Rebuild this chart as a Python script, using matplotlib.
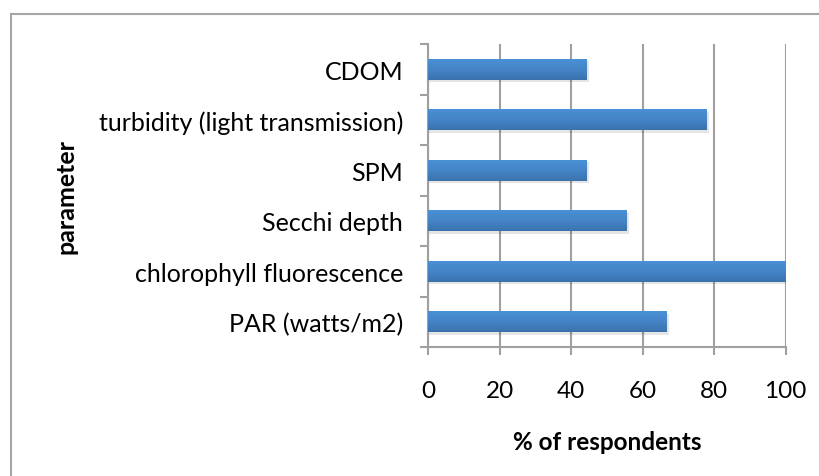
import matplotlib
matplotlib.use("Agg")
import matplotlib.pyplot as plt
import numpy as np
from matplotlib.lines import Line2D
from matplotlib.colors import LinearSegmentedColormap

categories = ["PAR (watts/m2)", "chlorophyll fluorescence", "Secchi depth",
              "SPM", "turbidity (light transmission)", "CDOM"]
values = [66.7, 100, 55.6, 44.4, 77.8, 44.4]
xticks = [0, 20, 40, 60, 80, 100]

plt.rcParams['font.family'] = ['Lato', 'DejaVu Sans']

fig = plt.figure(figsize=(8.19, 4.77), dpi=100)
ax = fig.add_axes([428/819, 1-348/477, (785.7-428)/819, (348-45)/477])

# frame of the chart area
fig.add_artist(Line2D([11/819, 11/819], [0, 1-15/477], transform=fig.transFigure,
                      color="#a6a6a6", lw=1.5))
fig.add_artist(Line2D([11/819, 1], [1-15/477, 1-15/477], transform=fig.transFigure,
                      color="#a6a6a6", lw=1.5))

y = np.arange(len(categories))
bars = ax.barh(y, values, height=0.42, color="#4384c6", zorder=3)

cmap = LinearSegmentedColormap.from_list("g", ["#3b72ad", "#4585c8", "#4a91d6"])
grad = np.linspace(0, 1, 64).reshape(-1, 1)
for b in bars:
    x0, y0 = b.get_x(), b.get_y()
    w, h = b.get_width(), b.get_height()
    # soft shadow
    ax.barh(y0 + h/2 - 0.05, w + 0.7, height=h, left=0, color="#000000", alpha=0.10,
            zorder=2, edgecolor="none")
    im = ax.imshow(grad, extent=[x0, x0 + w, y0, y0 + h], aspect="auto",
                   cmap=cmap, origin="lower", zorder=4)
    im.set_clip_path(b)

ax.set_xlim(0, 100)
ax.set_ylim(-0.5, len(categories) - 0.5)
ax.set_xticks(xticks)
ax.set_xticklabels([str(t) for t in xticks])
ax.set_yticks(y)
ax.set_yticklabels(categories)
ax.set_yticks(np.arange(-0.5, len(categories), 1), minor=True)
ax.tick_params(axis="y", which="major", length=0, pad=18, labelsize=18)
ax.tick_params(axis="y", which="minor", length=6, color="#a0a0a0", width=1.5)
ax.tick_params(axis="x", which="major", length=6, color="#a0a0a0", width=1.5,
               pad=18, labelsize=17.5)

ax.grid(axis="x", color="#a0a0a0", lw=1.5, zorder=0)
for s in ["top", "right"]:
    ax.spines[s].set_visible(False)
for s in ["left", "bottom"]:
    ax.spines[s].set_color("#a0a0a0")
    ax.spines[s].set_linewidth(1.5)

fig.text(607/819, 1-443/477, "% of respondents", ha="center", va="center",
         fontsize=17.5, fontweight="bold")
fig.text(66/819, 1-197/477, "parameter", ha="center", va="center",
         rotation=90, fontsize=18, fontweight="bold")

fig.savefig("out.png", dpi=100)
